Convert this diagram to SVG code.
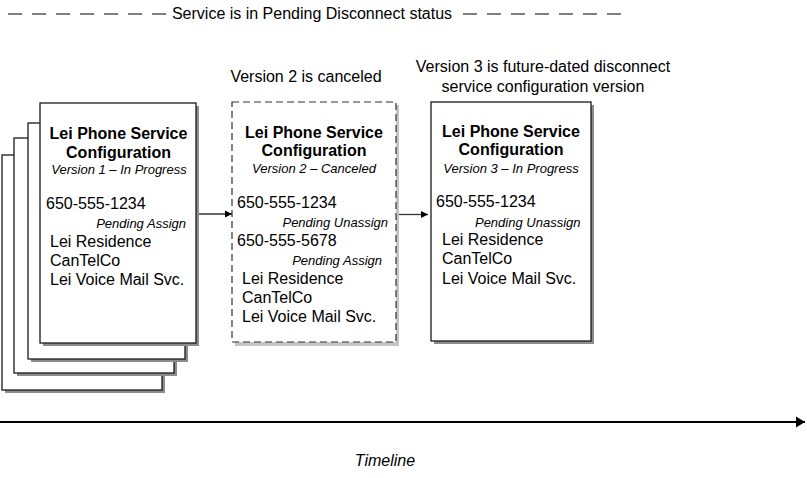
<svg xmlns="http://www.w3.org/2000/svg" width="807" height="478" viewBox="0 0 807 478">
<style>
text{font-family:"Liberation Sans",Arial,sans-serif;fill:#000}
.t{font-size:16px;font-weight:bold;text-anchor:middle}
.v{font-size:13px;font-style:italic;text-anchor:middle}
.n{font-size:16px}
.p{font-size:13px;font-style:italic;text-anchor:end}
.lbl{font-size:16px;text-anchor:middle}
.box{fill:#fff;stroke:#1a1a1a;stroke-width:1.3}
.sh{fill:#8c8c8c}
.shl{fill:#c4c4c4}
.conn{stroke:#333;stroke-width:1.3;fill:none}
</style>
<defs>
<marker id="ah" markerWidth="8" markerHeight="8" refX="7" refY="4" orient="auto" markerUnits="userSpaceOnUse">
<path d="M0,0.5 L7,4 L0,7.5 Z" fill="#000"/>
</marker>
<marker id="ah2" markerWidth="10" markerHeight="12" refX="9" refY="6" orient="auto" markerUnits="userSpaceOnUse">
<path d="M0,0.5 L9,6 L0,11.5 Z" fill="#000"/>
</marker>
</defs>

<g id="status-banner">
<line x1="8" y1="14" x2="168" y2="14" stroke="#000" stroke-width="1.2" stroke-dasharray="14 10"/>
<text class="lbl" x="312" y="19">Service is in Pending Disconnect status</text>
<line x1="463" y1="14" x2="623" y2="14" stroke="#000" stroke-width="1.2" stroke-dasharray="14 10"/>
</g>

<g id="version1">
<rect class="sh" x="5" y="158" width="160" height="235"/>
<rect class="box" x="2" y="155" width="160" height="235"/>
<rect class="sh" x="17" y="141" width="160" height="235"/>
<rect class="box" x="14" y="138" width="160" height="235"/>
<rect class="sh" x="31" y="126" width="157" height="236"/>
<rect class="box" x="28" y="123" width="157" height="236"/>
<rect class="sh" x="43" y="106" width="156" height="240"/>
<rect class="box" x="40" y="103" width="156" height="240"/>
<text class="t" x="118.5" y="139">Lei Phone Service</text>
<text class="t" x="118.5" y="158">Configuration</text>
<text class="v" x="119" y="173.5">Version 1 – In Progress</text>
<text class="n" x="46" y="209">650-555-1234</text>
<text class="p" x="186" y="227.5">Pending Assign</text>
<text class="n" x="50" y="246.5">Lei Residence</text>
<text class="n" x="50" y="265.5">CanTelCo</text>
<text class="n" x="50" y="285">Lei Voice Mail Svc.</text>
</g>

<g id="version2">
<text class="lbl" x="306" y="82">Version 2 is canceled</text>
<rect class="shl" x="235" y="105" width="164" height="241"/>
<rect x="232" y="102" width="164" height="240" fill="#fff" stroke="#333" stroke-width="1.2" stroke-dasharray="7 4"/>
<text class="t" x="314" y="137.5">Lei Phone Service</text>
<text class="t" x="314" y="156">Configuration</text>
<text class="v" x="314" y="172.5">Version 2 – Canceled</text>
<text class="n" x="237" y="207.5">650-555-1234</text>
<text class="p" x="388" y="226.5">Pending Unassign</text>
<text class="n" x="237" y="245.5">650-555-5678</text>
<text class="p" x="382" y="264.5">Pending Assign</text>
<text class="n" x="242" y="283.5">Lei Residence</text>
<text class="n" x="242" y="302.5">CanTelCo</text>
<text class="n" x="242" y="321.5">Lei Voice Mail Svc.</text>
</g>

<g id="version3">
<text class="lbl" x="543" y="72">Version 3 is future-dated disconnect</text>
<text class="lbl" x="543" y="92">service configuration version</text>
<rect class="sh" x="434" y="105" width="160" height="239"/>
<rect class="box" x="431" y="102" width="160" height="239"/>
<text class="t" x="511" y="137">Lei Phone Service</text>
<text class="t" x="511" y="155">Configuration</text>
<text class="v" x="511" y="172.5">Version 3 – In Progress</text>
<text class="n" x="436" y="207">650-555-1234</text>
<text class="p" x="580.5" y="226.5">Pending Unassign</text>
<text class="n" x="442" y="245">Lei Residence</text>
<text class="n" x="442" y="264">CanTelCo</text>
<text class="n" x="442" y="283.5">Lei Voice Mail Svc.</text>
</g>

<g id="connectors">
<line class="conn" x1="199" y1="214" x2="232" y2="214" marker-end="url(#ah)"/>
<line class="conn" x1="399" y1="214.5" x2="428" y2="214.5" marker-end="url(#ah)"/>
<line x1="0" y1="422" x2="805" y2="422" stroke="#000" stroke-width="2" marker-end="url(#ah2)"/>
</g>

<g id="timeline-label">
<text x="385" y="466" font-size="16" font-style="italic" text-anchor="middle" style="font-family:'Liberation Sans',Arial,sans-serif">Timeline</text>
</g>
</svg>
